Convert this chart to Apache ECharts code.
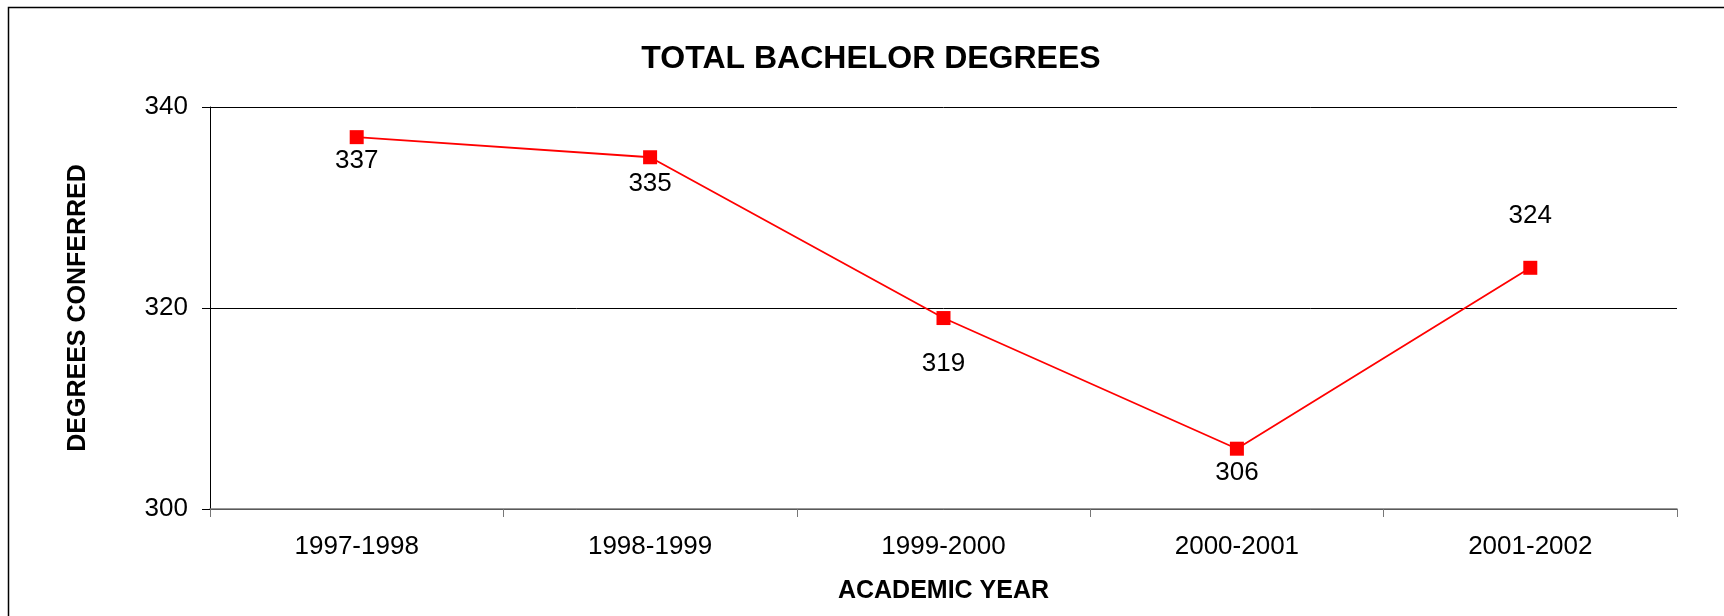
<!DOCTYPE html>
<html>
<head>
<meta charset="utf-8">
<script src="https://cdn.jsdelivr.net/npm/echarts@6/dist/echarts.min.js"></script>
<style>
  html, body { margin: 0; padding: 0; background: #fff; }
  #chart { width: 1724px; height: 616px; }
</style>
</head>
<body>
<div id="chart"></div>
<script>
const years = ['1997-1998', '1998-1999', '1999-2000', '2000-2001', '2001-2002'];
const degrees = [337, 335, 319, 306, 324];
const yTicks = [300, 320, 340];

// vertical shift of each value label from its point (px)
const labelShift = [24, 27, 46, 24, -52];

const font = 'Liberation Sans, Arial, sans-serif';
const chart = echarts.init(document.getElementById('chart'));

const option = {
    backgroundColor: '#fff',
    animation: false,
    title: {
        text: 'TOTAL BACHELOR DEGREES',
        left: 866,
        top: 38,
        textAlign: 'center',
        textStyle: { fontFamily: font, fontSize: 32, fontWeight: 'bold', color: '#000' },
    },
    graphic: [
        {
            type: 'rect',
            shape: { x: 8.5, y: 7.5, width: 1800, height: 700 },
            style: { fill: 'none', stroke: '#000', lineWidth: 1.5 },
            silent: true,
        },
    ],
    grid: {
        left: 210,
        right: 47,
        top: 107,
        bottom: 107,
    },
    xAxis: {
        type: 'category',
        data: years,
        boundaryGap: true,
        name: 'ACADEMIC YEAR',
        nameLocation: 'middle',
        nameGap: 70,
        nameTextStyle: { fontFamily: font, fontSize: 25, fontWeight: 'bold', color: '#000' },
        axisLine: { lineStyle: { color: '#777', width: 1.5 } },
        axisTick: { show: true, inside: false, length: 8, lineStyle: { color: '#777' } },
        axisLabel: { margin: 25, fontFamily: font, fontSize: 26, color: '#000' },
        splitLine: { show: false },
    },
    yAxis: {
        type: 'value',
        min: yTicks[0],
        max: yTicks[yTicks.length - 1],
        interval: yTicks[1] - yTicks[0],
        name: 'DEGREES CONFERRED',
        nameLocation: 'middle',
        nameGap: 119,
        nameTextStyle: { fontFamily: font, fontSize: 25, fontWeight: 'bold', color: '#000' },
        axisLine: { show: true, lineStyle: { color: '#000', width: 1 } },
        axisTick: { show: true, inside: false, length: 8, lineStyle: { color: '#000' } },
        axisLabel: { margin: 22, fontFamily: font, fontSize: 26, color: '#000' },
        splitLine: { show: true, lineStyle: { color: '#000', width: 1 } },
    },
    series: [
        {
            name: 'Degrees',
            type: 'line',
            data: degrees.map((v, i) => ({
                value: v,
                label: { offset: [0, labelShift[i]] },
            })),
            symbol: 'rect',
            symbolSize: 14,
            lineStyle: { color: '#ff0000', width: 1.8 },
            itemStyle: { color: '#ff0000' },
            label: {
                show: true,
                position: 'inside',
                fontFamily: font,
                fontSize: 26,
                color: '#000',
            },
        },
    ],
};

chart.setOption(option);
</script>
</body>
</html>
